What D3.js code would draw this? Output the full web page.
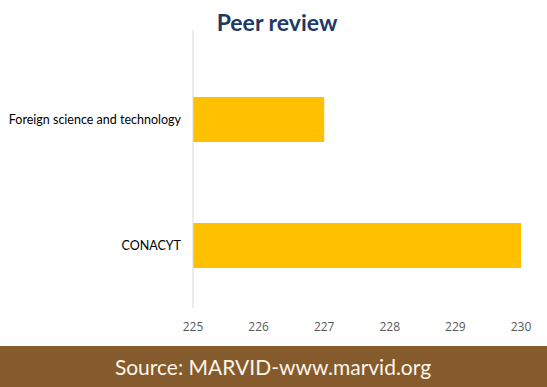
<!DOCTYPE html>
<html>
<head>
<meta charset="utf-8">
<script src="https://cdn.jsdelivr.net/npm/d3@7"></script>
<style>
  body { margin: 0; background: #fff; }
  svg { display: block; }
</style>
</head>
<body>
<div id="chart"></div>
<script>
const categories = ['Foreign science and technology', 'CONACYT'];
const values = [227, 230];
const ticks = [225, 226, 227, 228, 229, 230];

const width = 547, height = 387;
const margin = { top: 30, right: 26, bottom: 79, left: 193 };

const svg = d3.select('#chart')
  .append('svg')
  .attr('width', width)
  .attr('height', height);

const x = d3.scaleLinear()
  .domain([225, 230])
  .range([margin.left, width - margin.right]);

// bars sit a little lower than the plot centre
const y = d3.scaleBand()
  .domain(categories)
  .range([52, 313])
  .paddingInner(0.643)
  .paddingOuter(0.357);

// title
svg.append('text')
  .attr('x', 277)
  .attr('y', 31)
  .attr('text-anchor', 'middle')
  .style('font-family', 'Lato, "Open Sans", sans-serif')
  .style('font-weight', 'bold')
  .style('font-size', '23px')
  .attr('fill', '#1f3864')
  .text('Peer review');

// bars
svg.selectAll('rect.bar')
  .data(categories)
  .join('rect')
  .attr('class', 'bar')
  .attr('x', x(225))
  .attr('y', d => y(d))
  .attr('width', (d, i) => x(values[i]) - x(225))
  .attr('height', y.bandwidth())
  .attr('fill', '#ffc000');

// vertical axis line
svg.append('line')
  .attr('x1', x(225)).attr('x2', x(225))
  .attr('y1', margin.top).attr('y2', height - margin.bottom)
  .attr('stroke', '#d9d9d9')
  .attr('stroke-width', 1);

// category labels
svg.selectAll('text.cat')
  .data(categories)
  .join('text')
  .attr('class', 'cat')
  .attr('x', x(225) - 12)
  .attr('y', d => y(d) + y.bandwidth() / 2)
  .attr('dy', '0.35em')
  .attr('text-anchor', 'end')
  .style('font-family', 'Lato, "Open Sans", sans-serif')
  .style('font-size', '12.5px')
  .attr('fill', '#000')
  .text(d => d);

// tick labels
svg.selectAll('text.tick')
  .data(ticks)
  .join('text')
  .attr('class', 'tick')
  .attr('x', d => x(d))
  .attr('y', 331)
  .attr('text-anchor', 'middle')
  .style('font-family', '"Open Sans", sans-serif')
  .style('font-size', '12px')
  .attr('fill', '#595959')
  .text(d => d);

// footer band
svg.append('rect')
  .attr('x', 0).attr('y', 346)
  .attr('width', width).attr('height', height - 346)
  .attr('fill', '#855a2c');

svg.append('text')
  .attr('x', 273)
  .attr('y', 375)
  .attr('text-anchor', 'middle')
  .style('font-family', 'Lato, "Open Sans", sans-serif')
  .style('font-size', '21px')
  .attr('fill', '#fdf5ea')
  .text('Source: MARVID-www.marvid.org');
</script>
</body>
</html>
